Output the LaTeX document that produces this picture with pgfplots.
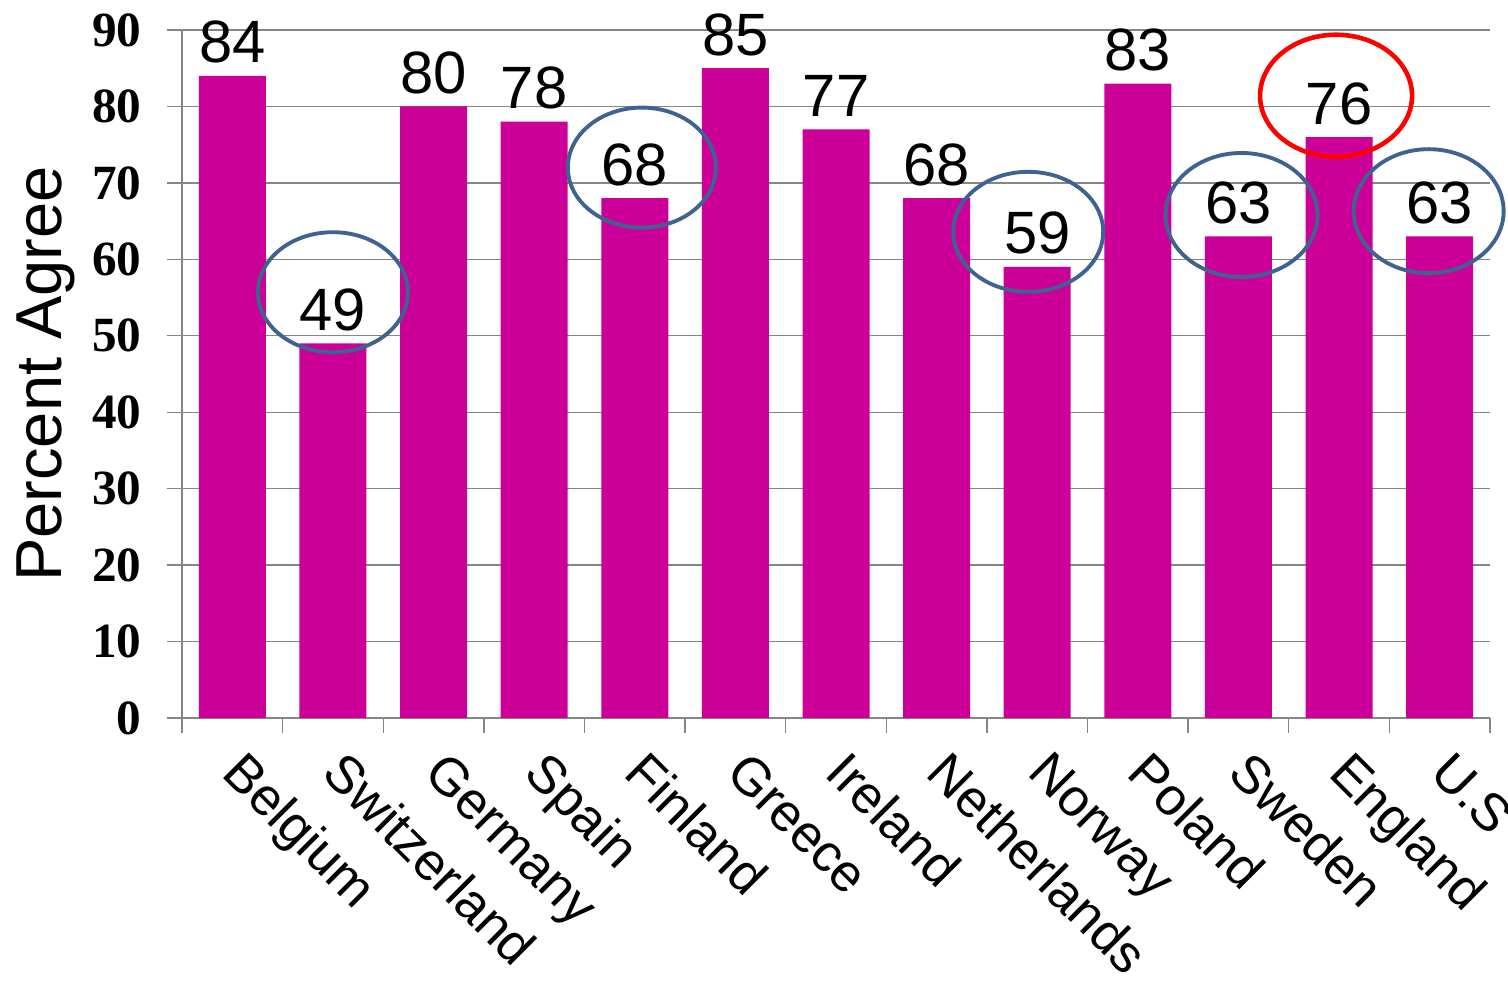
\documentclass[border=0pt]{standalone}
\usepackage{pgfplots}
\pgfplotsset{compat=1.18}
\usepackage{fontspec}
\setmainfont{Liberation Sans}
\newfontfamily\timesfont{Liberation Serif}

\definecolor{barpink}{HTML}{CC0099}
\definecolor{ringblue}{HTML}{3E6390}
\definecolor{axisgray}{HTML}{868686}

\begin{document}
\begin{tikzpicture}
    \begin{axis}[
        scale only axis,
        width  = 130.8mm,
        height = 68.8mm,
        ybar,
        bar width=6.7mm,
        ymin=0, ymax=90,
        ytick={0,10,...,90},
        xmin=-0.5, xmax=12.5,
        xtick={0,...,12},
        xticklabels={Belgium,Switzerland,Germany,Spain,Finland,Greece,Ireland,Netherlands,Norway,Poland,Sweden,England,U.S},
        minor xtick={-0.5,0.5,...,12.5},
        major x tick style={draw=none},
        tick align=outside,
        major tick length=1.5mm,
        minor tick length=1.5mm,
        axis x line*=bottom,
        axis y line*=left,
        axis line style={axisgray, line width=0.4pt},
        every tick/.style={axisgray, line width=0.4pt},
        ymajorgrids,
        grid style={axisgray, line width=0.4pt},
        clip=false,
        /pgf/number format/assume math mode=true,
        yticklabel style={font=\fontsize{14}{14}\timesfont\bfseries, xshift=-1.3mm},
        xticklabel style={xshift=1.5mm, yshift=-1.5mm, rotate=-45, anchor=north west,
                          inner sep=0pt, font=\fontsize{15}{15}\selectfont},
        ylabel={Percent Agree},
        ylabel style={font=\fontsize{18.5}{18.5}\selectfont, yshift=-0.7mm},
        nodes near coords,
        every node near coord/.append style={font=\fontsize{17}{17}\selectfont, text=black},
    ]
        \addplot[fill=barpink, draw=none]
            coordinates {(0,84) (1,49) (2,80) (3,78) (4,68) (5,85) (6,77)
                         (7,68) (8,59) (9,83) (10,63) (11,76) (12,63)};

        % rings round the values the slide points out
        \draw[ringblue, line width=1.1pt] (axis cs:1.0,55.7) ellipse [x radius=7.5mm, y radius=6.0mm];
        \draw[ringblue, line width=1.1pt] (axis cs:4.07,72.0) ellipse [x radius=7.4mm, y radius=6.0mm];
        \draw[ringblue, line width=1.1pt] (axis cs:7.91,63.6) ellipse [x radius=7.5mm, y radius=6.0mm];
        \draw[ringblue, line width=1.1pt] (axis cs:10.03,65.8) ellipse [x radius=7.6mm, y radius=6.2mm];
        \draw[ringblue, line width=1.1pt] (axis cs:11.89,66.3) ellipse [x radius=7.5mm, y radius=6.2mm];
        \draw[red, line width=1.3pt] (axis cs:10.97,81.4) ellipse [x radius=7.6mm, y radius=6.1mm];
    \end{axis}
    % page frame as in the reference
    \pgfresetboundingbox
    \path ([xshift=-18.2mm, yshift=-26.5mm]current axis.south west)
          rectangle ([xshift=1.8mm, yshift=3.0mm]current axis.north east);
\end{tikzpicture}
\end{document}
